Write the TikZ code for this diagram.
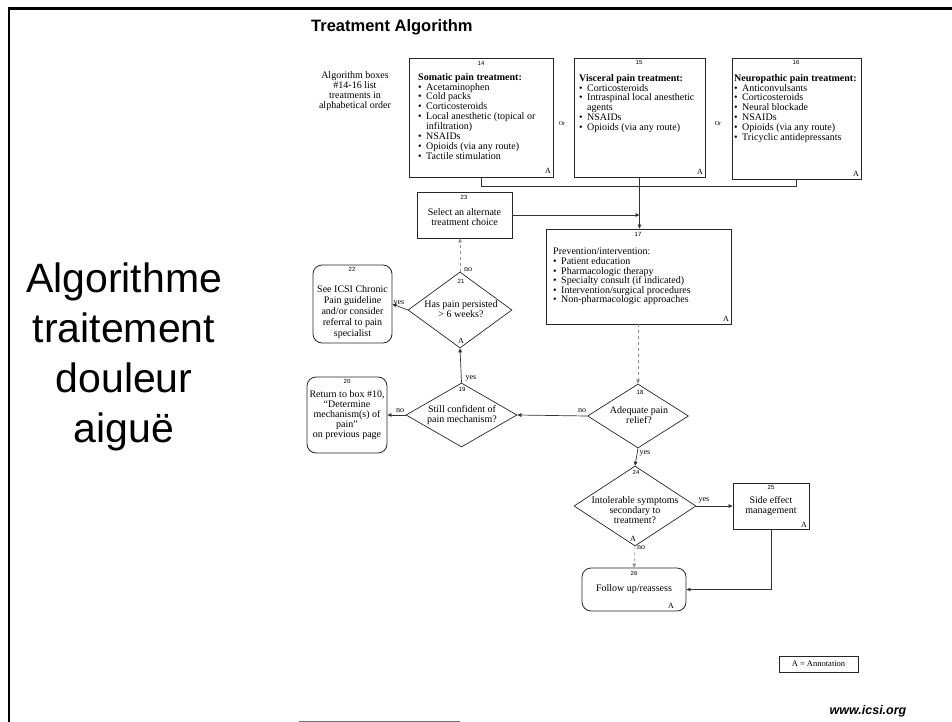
\documentclass[tikz,border=0pt]{standalone}
\usepackage{fontspec}
\setmainfont{Liberation Serif}
\newfontfamily\hsans{Liberation Sans}
\usetikzlibrary{shapes.geometric,arrows.meta}
\newcommand\bul{\makebox[8pt][l]{\textbullet}}
\newcommand\ind{\hspace*{8pt}}
\begin{document}
\begin{tikzpicture}[x=1pt,y=-1pt,
 box/.style={draw=black!85,line width=0.8pt,inner sep=0pt},
 rbox/.style={box,rounded corners=9pt},
 dia/.style={draw=black!85,line width=0.7pt,diamond,inner sep=0pt},
 txt/.style={inner sep=0pt,font=\fontsize{10}{10}\selectfont,align=center},
 ltxt/.style={inner sep=0pt,font=\fontsize{10}{9.9}\selectfont,align=left,anchor=north west},
 num/.style={inner sep=0pt,font=\hsans\fontsize{6}{6}\selectfont},
 amark/.style={inner sep=0pt,font=\fontsize{8}{8}\selectfont},
 lab/.style={inner sep=0pt,font=\fontsize{8}{8}\selectfont},
 big/.style={inner sep=0pt,font=\hsans\fontsize{41}{41}\selectfont,anchor=base},
 conn/.style={draw=black!80,line width=0.7pt},
 arr/.style={conn,-{Triangle[length=4pt,width=3.6pt]}},
 darr/.style={draw=black!45,line width=0.6pt,dashed,-{Triangle[length=4pt,width=3.6pt]}}
]
\useasboundingbox (0,0) rectangle (952,722);
% frame
\draw[line width=3pt] (8,8.5) -- (952,8.5);
\draw[line width=2pt] (9,7) -- (9,722);
\draw[black!55,line width=1pt] (299,721) -- (460,721);

% titles
\node[inner sep=0pt,anchor=base west,font=\hsans\bfseries\fontsize{16.5}{16.5}\selectfont] (title) at (311,32) {Treatment Algorithm};
\node[big] (s1) at (124,292) {Algorithme};
\node[big] (s2) at (124,342) {traitement};
\node[big] (s3) at (124,392) {douleur};
\node[big] (s4) at (124,442) {aiguë};

\node[txt] (intro) at (355,91) {Algorithm boxes\\\#14-16 list\\treatments in\\alphabetical order};

% box 14
\node[box,minimum width=144pt,minimum height=119pt] (b14) at (481,117.5) {};
\node[num] (n14) at (481,63) {14};
\node[ltxt] (t14) at (418,73) {{\bfseries Somatic pain treatment:}\\\bul Acetaminophen\\\bul Cold packs\\\bul Corticosteroids\\\bul Local anesthetic (topical or\\\ind infiltration)\\\bul NSAIDs\\\bul Opioids (via any route)\\\bul Tactile stimulation};
\node[amark] (a14) at (548,171) {A};
\node[lab,font=\fontsize{6}{6}\selectfont] (or1) at (562,124) {Or};

% box 15
\node[box,minimum width=131pt,minimum height=119pt] (b15) at (639.5,117.5) {};
\node[num] (n15) at (639,62) {15};
\node[ltxt] (t15) at (579,74) {{\bfseries Visceral pain treatment:}\\\bul Corticosteroids\\\bul Intraspinal local anesthetic\\\ind agents\\\bul NSAIDs\\\bul Opioids (via any route)};
\node[amark] (a15) at (700,172) {A};
\node[lab,font=\fontsize{6}{6}\selectfont] (or2) at (718,124) {Or};

% box 16
\node[box,minimum width=129pt,minimum height=121pt] (b16) at (796.5,118.5) {};
\node[num] (n16) at (796,62) {16};
\node[ltxt] (t16) at (734,74) {{\bfseries Neuropathic pain treatment:}\\\bul Anticonvulsants\\\bul Corticosteroids\\\bul Neural blockade\\\bul NSAIDs\\\bul Opioids (via any route)\\\bul Tricyclic antidepressants};
\node[amark] (a16) at (856,174) {A};

% box 23
\node[box,minimum width=95pt,minimum height=46pt] (b23) at (464.5,215) {};
\node[num] (n23) at (464,197) {23};
\node[txt] (t23) at (464.5,217) {Select an alternate\\treatment choice};

% box 17
\node[box,minimum width=185pt,minimum height=95pt] (b17) at (638.5,276.5) {};
\node[num] (n17) at (638,234) {17};
\node[ltxt,font=\fontsize{10}{9.6}\selectfont] (t17) at (553,248) {Prevention/intervention:\\\bul Patient education\\\bul Pharmacologic therapy\\\bul Specialty consult (if indicated)\\\bul Intervention/surgical procedures\\\bul Non-pharmacologic approaches};
\node[amark] (a17) at (726,319) {A};

% diamond 21
\node[dia,minimum width=104pt,minimum height=76pt] (d21) at (460,310) {};
\node[num] (n21) at (461,281) {21};
\node[txt] (t21) at (461,309) {Has pain persisted\\> 6 weeks?};
\node[amark] (a21) at (461,341) {A};

% box 22
\node[rbox,minimum width=79pt,minimum height=78pt] (b22) at (352.5,304) {};
\node[num] (n22) at (352,269) {22};
\node[txt,font=\fontsize{10}{11}\selectfont] (t22) at (352.5,312) {See ICSI Chronic\\Pain guideline\\and/or consider\\referral to pain\\specialist};

% diamond 19
\node[dia,minimum width=111pt,minimum height=64pt] (d19) at (461.5,415) {};
\node[num] (n19) at (462,389) {19};
\node[txt] (t19) at (462,415) {Still confident of\\pain mechanism?};

% box 20
\node[rbox,minimum width=80pt,minimum height=76pt] (b20) at (347,415) {};
\node[num] (n20) at (347,381) {20};
\node[txt] (t20) at (347,415.5) {Return to box \#10,\\``Determine\\mechanism(s) of\\pain''\\on previous page};

% diamond 18
\node[dia,minimum width=101pt,minimum height=64pt] (d18) at (638,416) {};
\node[num] (n18) at (640,392) {18};
\node[txt] (t18) at (639,415) {Adequate pain\\relief?};

% diamond 24
\node[dia,minimum width=122pt,minimum height=80pt] (d24) at (635,506) {};
\node[num] (n24) at (636,472) {24};
\node[txt] (t24) at (635,510) {Intolerable symptoms\\secondary to\\treatment?};
\node[amark] (a24) at (633,539) {A};

% box 25
\node[box,minimum width=76pt,minimum height=46pt] (b25) at (771,506) {};
\node[num] (n25) at (771,487) {25};
\node[txt] (t25) at (771,506) {Side effect\\management};
\node[amark] (a25) at (804,525) {A};

% box 26
\node[rbox,minimum width=104pt,minimum height=43pt] (b26) at (634,589.5) {};
\node[num] (n26) at (634,573) {26};
\node[txt] (t26) at (634,589) {Follow up/reassess};
\node[amark] (a26) at (671,606) {A};

% annotation
\node[box,line width=0.6pt,minimum width=79pt,minimum height=16pt,font=\fontsize{8.5}{8.5}\selectfont] (key) at (818.5,664) {A = Annotation};
\node[inner sep=0pt,font=\hsans\bfseries\itshape\fontsize{12.5}{12.5}\selectfont] (web) at (868,711) {www.icsi.org};

% connectors
\coordinate (jy) at (0,186);
\draw[conn] (b14.south) -- (b14.south |- jy) -- (b16.south |- jy) -- (b16.south);
\draw[arr] (b15.south) -- (b15.south |- b17.north);
\draw[arr] (b23.east) -- (b23.east -| b15.south);
\draw[darr] (b17.south -| d18.north) -- (d18.north);
\draw[arr] (d18.south) -- (d24.north);
\draw[arr] (d18.west) -- (d19.east);
\draw[arr] (d19.west) -- (b20.east);
\draw[arr] (d19.north) -- (d21.south);
\draw[darr] (d21.north) -- (d21.north |- b23.south);
\draw[arr] (d21.west) -- (b22.east);
\draw[arr] (d24.east) -- (b25.west);
\draw[darr] (d24.south) -- (b26.north);
\draw[arr] (b25.south) |- (b26.east);

% connector labels
\node[lab] (l18no) at (582,411) {no};
\node[lab] (l19no) at (400,411) {no};
\node[lab] (l19yes) at (471,378) {yes};
\node[lab] (l21no) at (468,270) {no};
\node[lab] (l21yes) at (399,303) {yes};
\node[lab] (l18yes) at (645,453) {yes};
\node[lab] (l24yes) at (704,500) {yes};
\node[lab] (l24no) at (641,548) {no};
\end{tikzpicture}
\end{document}
